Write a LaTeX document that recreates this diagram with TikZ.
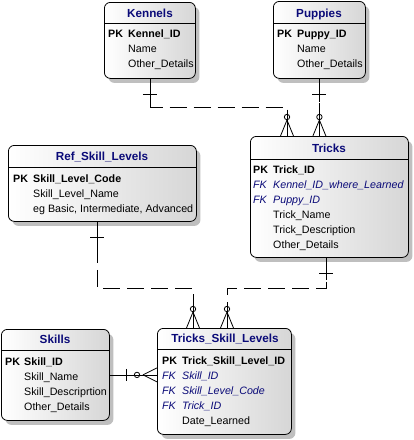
\documentclass[tikz,border=0pt]{standalone}
\usepackage{fontspec}
\setmainfont{Liberation Sans}
\usetikzlibrary{shadows,calc}
\definecolor{navy}{RGB}{10,10,120}
\tikzset{
  entity/.style={draw=black, line width=0.8pt, rounded corners=6pt, left color=white, right color=black!16,
    drop shadow={shadow xshift=4pt,shadow yshift=-4.5pt,fill=black!25,opacity=1}, inner sep=0pt, anchor=north west},
  titletext/.style={font=\fontsize{11.7}{13}\selectfont\bfseries, text=navy, anchor=base, inner sep=0pt},
  plainrow/.style={font=\fontsize{10.7}{12}\selectfont, anchor=base west, inner sep=0pt},
  pkrow/.style={plainrow, font=\fontsize{10.7}{12}\selectfont\bfseries},
  fkrow/.style={plainrow, font=\fontsize{10.7}{12}\selectfont\itshape, text=navy},
  sepline/.style={line width=0.8pt},
  rel/.style={line width=0.8pt, dash pattern=on 17pt off 7pt},
  solidrel/.style={line width=0.8pt},
  cfdown/.pic={
    \draw[solidrel] (0,-24) -- (0,0);
    \draw[solidrel] (0,-16) -- (-6.5,0);
    \draw[solidrel] (0,-16) -- (6.5,0);
    \draw[solidrel] (0,-19) circle (2.7pt);
  },
  cfleft/.pic={
    \draw[solidrel] (-14,0) -- (0,-7);
    \draw[solidrel] (-14,0) -- (0,7);
    \draw[solidrel] (-20,0) circle (2.7pt);
  }
}
\begin{document}
\begin{tikzpicture}[x=1pt,y=-1pt]
\useasboundingbox (0,0) rectangle (414,440);

% ---- entities ----
\node[entity, minimum width=91, minimum height=76] (kennels) at (104,2) {};
\node[entity, minimum width=92, minimum height=77] (puppies) at (273,1) {};
\node[entity, minimum width=158, minimum height=121] (tricks) at (250,136) {};
\node[entity, minimum width=188, minimum height=76] (ref) at (8,145) {};
\node[entity, minimum width=108, minimum height=91] (skills) at (1,329) {};
\node[entity, minimum width=134, minimum height=106] (tsl) at (157,328) {};

% separators
\draw[sepline] (104,23) -- (195,23);
\draw[sepline] (273,23) -- (365,23);
\draw[sepline] (250,159) -- (408,159);
\draw[sepline] (8,167) -- (196,167);
\draw[sepline] (1,350) -- (109,350);
\draw[sepline] (157,349) -- (291,349);

% Kennels
\node[titletext] (kt) at (150,17) {Kennels};
\node[pkrow] (k1a) at (108,37) {PK};
\node[pkrow] (k1) at (128,37) {Kennel\_ID};
\node[plainrow] (k2) at (128,52) {Name};
\node[plainrow] (k3) at (128,67) {Other\_Details};

% Puppies
\node[titletext] (pt) at (319,17) {Puppies};
\node[pkrow] (p1a) at (277,37) {PK};
\node[pkrow] (p1) at (297,37) {Puppy\_ID};
\node[plainrow] (p2) at (297,52) {Name};
\node[plainrow] (p3) at (297,67) {Other\_Details};

% Tricks
\node[titletext] (tt) at (329,152) {Tricks};
\node[pkrow] (t1a) at (253,173) {PK};
\node[pkrow] (t1) at (273,173) {Trick\_ID};
\node[fkrow] (t2a) at (253,188) {FK};
\node[fkrow] (t2) at (273,188) {Kennel\_ID\_where\_Learned};
\node[fkrow] (t3a) at (253,203) {FK};
\node[fkrow] (t3) at (273,203) {Puppy\_ID};
\node[plainrow] (t4) at (273,218) {Trick\_Name};
\node[plainrow] (t5) at (273,233) {Trick\_Description};
\node[plainrow] (t6) at (273,248) {Other\_Details};

% Ref_Skill_Levels
\node[titletext] (rt) at (102,160.5) {Ref\_Skill\_Levels};
\node[pkrow] (r1a) at (13,182) {PK};
\node[pkrow] (r1) at (33,182) {Skill\_Level\_Code};
\node[plainrow] (r2) at (33,197) {Skill\_Level\_Name};
\node[plainrow] (r3) at (33,212) {eg Basic, Intermediate, Advanced};

% Skills
\node[titletext] (st) at (55,343.5) {Skills};
\node[pkrow] (s1a) at (5,365) {PK};
\node[pkrow] (s1) at (24,365) {Skill\_ID};
\node[plainrow] (s2) at (24,380) {Skill\_Name};
\node[plainrow] (s3) at (24,395) {Skill\_Descriprtion};
\node[plainrow] (s4) at (24,410) {Other\_Details};

% Tricks_Skill_Levels
\node[titletext] (tslt) at (225,342.5) {Tricks\_Skill\_Levels};
\node[pkrow] (q1a) at (162,364) {PK};
\node[pkrow] (q1) at (182,364) {Trick\_Skill\_Level\_ID};
\node[fkrow] (q2a) at (162,379) {FK};
\node[fkrow] (q2) at (182,379) {Skill\_ID};
\node[fkrow] (q3a) at (162,394) {FK};
\node[fkrow] (q3) at (182,394) {Skill\_Level\_Code};
\node[fkrow] (q4a) at (162,409) {FK};
\node[fkrow] (q4) at (182,409) {Trick\_ID};
\node[plainrow] (q5) at (182,424) {Date\_Learned};

% ---- relationships ----
% Kennels -> Tricks
\draw[rel] (kennels.south) |- ($(tricks.north west)+(37,-29)$) -- ($(tricks.north west)+(37,0)$);
\draw[solidrel] (kennels.south) -- ++(0,29) -- ++(8,0);
\draw[solidrel] ($(kennels.south)+(-7,16)$) -- ++(14,0);
\pic at ($(tricks.north west)+(37,0)$) {cfdown};

% Puppies -> Tricks
\draw[rel] (puppies.south) -- (puppies.south |- tricks.north);
\draw[solidrel] (puppies.south) -- ++(0,23);
\draw[solidrel] ($(puppies.south)+(-7,16)$) -- ++(14,0);
\pic at (puppies.south |- tricks.north) {cfdown};

% Ref_Skill_Levels -> Tricks_Skill_Levels
\draw[rel] ($(ref.south)+(-5,0)$) |- ($(tsl.north west)+(36,-40)$) -- ($(tsl.north west)+(36,0)$);
\draw[solidrel] ($(ref.south)+(-5,0)$) -- ++(0,24);
\draw[solidrel] ($(ref.south)+(-12,16)$) -- ++(14,0);
\pic at ($(tsl.north west)+(36,0)$) {cfdown};

% Tricks -> Tricks_Skill_Levels
\draw[rel] ($(tricks.south)+(-3,0)$) |- ($(tsl.north west)+(70,-40)$) -- ($(tsl.north west)+(70,0)$);
\draw[solidrel] ($(tricks.south)+(-3,0)$) -- ++(0,22);
\draw[solidrel] ($(tricks.south)+(-10,16)$) -- ++(14,0);
\pic at ($(tsl.north west)+(70,0)$) {cfdown};

% Skills -> Tricks_Skill_Levels
\draw[solidrel] (skills.east) -- (skills.east -| tsl.west);
\draw[solidrel] ($(skills.east)+(17,-6)$) -- ++(0,12);
\pic at (skills.east -| tsl.west) {cfleft};
\end{tikzpicture}
\end{document}
